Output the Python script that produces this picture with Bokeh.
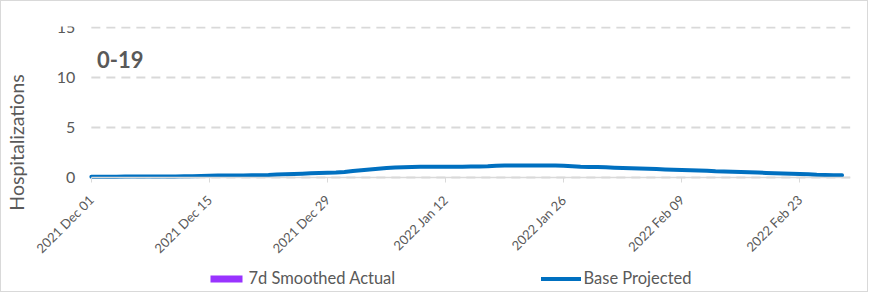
import numpy as np
import pandas as pd
from datetime import datetime
from bokeh.plotting import figure
from bokeh.models import (ColumnDataSource, Range1d, FixedTicker, DatetimeTickFormatter,
                          Legend, LegendItem, Label, LinearAxis)
from bokeh.embed import file_html
from bokeh.resources import INLINE

# ---- data ----
start_date = "2021-12-01"
end_date = "2022-03-01"
n_days = 90
base_projected = [
    0.08, 0.08, 0.08, 0.08, 0.09, 0.09, 0.09,
    0.10, 0.10, 0.10, 0.11, 0.12, 0.13, 0.15,
    0.18, 0.20, 0.20, 0.20, 0.21, 0.22, 0.22,
    0.25, 0.30, 0.33, 0.35, 0.38, 0.42, 0.45,
    0.48, 0.50, 0.55, 0.65, 0.72, 0.80, 0.88,
    0.95, 1.00, 1.03, 1.05, 1.07, 1.08, 1.08,
    1.08, 1.08, 1.08, 1.10, 1.10, 1.12, 1.18,
    1.20, 1.20, 1.20, 1.20, 1.20, 1.20, 1.20,
    1.18, 1.12, 1.07, 1.05, 1.05, 1.02, 0.98,
    0.95, 0.92, 0.90, 0.87, 0.84, 0.80, 0.77,
    0.74, 0.72, 0.70, 0.68, 0.63, 0.60, 0.57,
    0.55, 0.53, 0.50, 0.46, 0.42, 0.39, 0.37,
    0.35, 0.33, 0.28, 0.25, 0.23, 0.22,
]
# no smoothed actuals are reported in this window
actual_dates = ["2021-12-01"]
actual_values = [float("nan")]
tick_dates = ["2021-12-01", "2021-12-15", "2021-12-29", "2022-01-12",
              "2022-01-26", "2022-02-09", "2022-02-23"]
y_ticks = [0, 5, 10, 15]
panel_title = "0-19"
y_label = "Hospitalizations"
series_names = ["7d Smoothed Actual", "Base Projected"]

FONT = "Lato"
GREY = "#595959"

d0 = pd.Timestamp(start_date)
d1 = pd.Timestamp(end_date)
dates = pd.date_range(start_date, periods=n_days, freq="D")
src = ColumnDataSource(dict(x=dates, y=base_projected))
act_src = ColumnDataSource(dict(x=pd.to_datetime(actual_dates), top=actual_values))
grid_src = ColumnDataSource(dict(x0=[d0] * len(y_ticks), x1=[d1] * len(y_ticks), y=y_ticks))

# layout geometry (pixels): plot area starts 58px left of the first date so the
# slanted first date label is not cut; value axis is pinned at the first date
PLOT_W = 868
BORDER_L, BORDER_R = 30, 19
LEAD_PX = 58
frame_w = PLOT_W - BORDER_L - BORDER_R
days_span = (d1 - d0) / pd.Timedelta(days=1)
px_per_day = (frame_w - LEAD_PX) / days_span
x_start = d0 - pd.Timedelta(days=LEAD_PX / px_per_day)

p = figure(width=PLOT_W, height=292, x_axis_type="datetime",
           x_range=Range1d(x_start.to_pydatetime(), d1.to_pydatetime()),
           y_range=Range1d(-11.6, 15.1),
           output_backend="svg", toolbar_location=None,
           min_border_left=BORDER_L, min_border_right=BORDER_R, min_border_top=25,
           min_border_bottom=0)
p.outline_line_color = None
p.styles = {"border": "1.5px solid #d9d9d9"}
p.xgrid.grid_line_color = None
p.ygrid.grid_line_color = None

# horizontal gridlines across the date span
p.segment(x0="x0", x1="x1", y0="y", y1="y", source=grid_src,
          line_color="#d9d9d9", line_width=2, line_dash="9 6")

r_act = p.vbar(x="x", top="top", width=86400000 * 0.8, source=act_src,
               fill_color="#9933FF", line_color=None)
r_base = p.line("x", "y", source=src, line_color="#0070C0", line_width=4, line_cap="round",
                line_join="round")

# value axis pinned at the first date
p.yaxis.fixed_location = d0.value / 1e6
p.yaxis.ticker = FixedTicker(ticks=y_ticks)
p.yaxis.axis_line_color = None
p.yaxis.major_tick_line_color = None
p.yaxis.minor_tick_line_color = None
p.yaxis.major_label_text_font = FONT
p.yaxis.major_label_text_font_size = "16px"
p.yaxis.major_label_text_color = GREY
p.yaxis.major_label_standoff = 10

# axis title, drawn as the single label of an outer left axis
label_pos = 3.5
title_axis = LinearAxis(ticker=FixedTicker(ticks=[label_pos]),
                        major_label_overrides={label_pos: y_label},
                        major_label_orientation="vertical",
                        major_label_standoff=0,
                        major_label_text_font=FONT, major_label_text_font_size="19.5px",
                        major_label_text_color=GREY,
                        axis_line_color=None, major_tick_line_color=None,
                        minor_tick_line_color=None)
p.add_layout(title_axis, "left")

# date axis pinned at y = 0
tick_ms = [pd.Timestamp(d).value / 1e6 for d in tick_dates]
p.xaxis.fixed_location = 0
p.xaxis.bounds = (d0.value / 1e6, d1.value / 1e6)
p.xaxis.ticker = FixedTicker(ticks=tick_ms)
fmt = "%Y %b %d"
p.xaxis.formatter = DatetimeTickFormatter(days=fmt, months=fmt, years=fmt, hours=fmt,
                                          hourmin=fmt, minutes=fmt, minsec=fmt, seconds=fmt,
                                          milliseconds=fmt, microseconds=fmt)
p.xaxis.axis_line_color = "#d9d9d9"
p.xaxis.axis_line_width = 1.5
p.xaxis.major_tick_line_color = "#d9d9d9"
p.xaxis.major_tick_in = 0
p.xaxis.major_tick_out = 5
p.xaxis.minor_tick_line_color = None
p.xaxis.major_label_orientation = np.pi / 4
p.xaxis.major_label_text_font = FONT
p.xaxis.major_label_text_font_size = "13px"
p.xaxis.major_label_text_color = GREY
p.xaxis.major_label_standoff = 15

# panel title
p.add_layout(Label(x=LEAD_PX + 5.5, y=11.8, x_units="screen", y_units="data",
                   text=panel_title, text_font=FONT, text_font_style="bold",
                   text_font_size="22px", text_color=GREY, text_baseline="alphabetic"))

# legend
legend = Legend(items=[LegendItem(label=series_names[0], renderers=[r_act]),
                       LegendItem(label=series_names[1], renderers=[r_base])],
                location=(LEAD_PX + 114.5, 5), orientation="horizontal", padding=0, margin=0,
                spacing=0, border_line_color=None, background_fill_alpha=0,
                label_text_font=FONT, label_text_font_size="16.5px",
                label_text_color=GREY, label_height=20, label_width=292, label_standoff=3,
                glyph_width=40, glyph_height=9)
p.add_layout(legend)

open("out.html", "w").write(file_html(p, INLINE))
